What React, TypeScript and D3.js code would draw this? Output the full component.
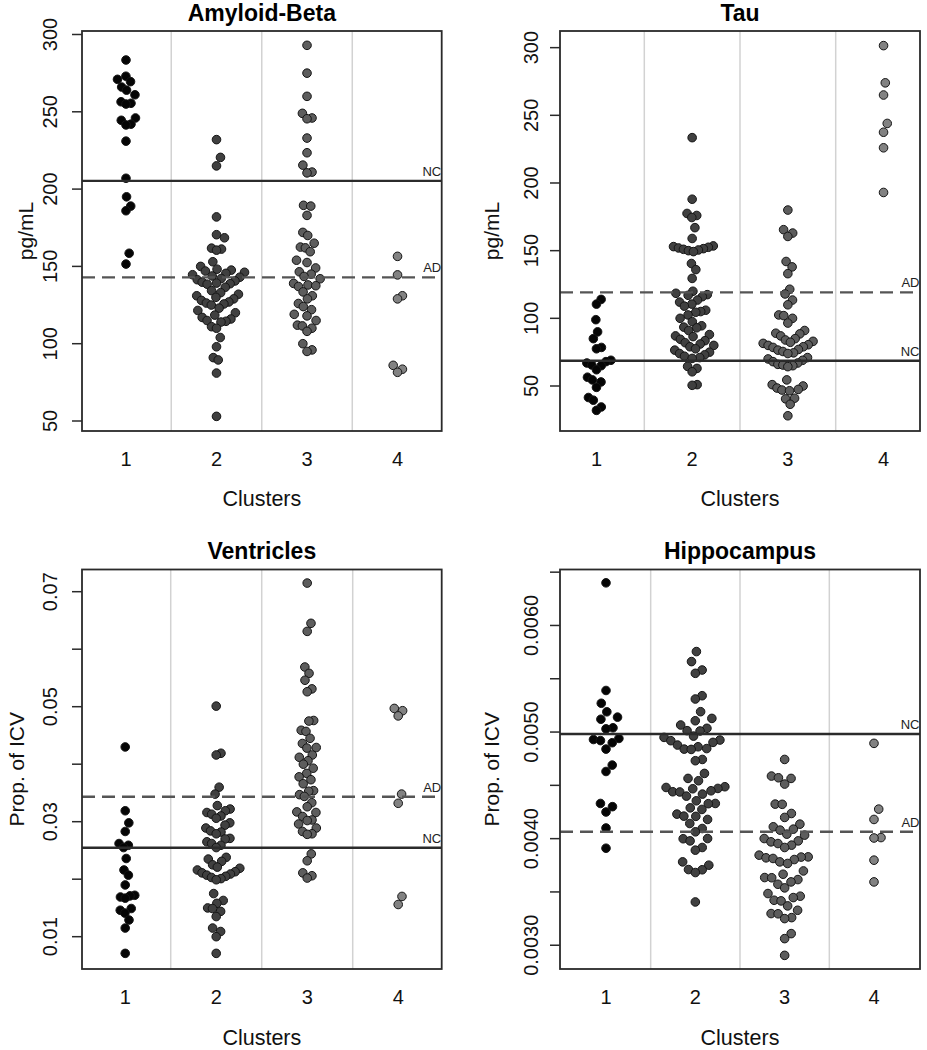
import React from "react";
import * as d3 from "d3";

// ---------------- data ----------------
const clusterLabels = ["1", "2", "3", "4"];
const refLabels = ["NC", "AD"];

// Amyloid-Beta (pg/mL)
const amyloidC1 = [283.5, 273, 271, 269.5, 266, 264, 261, 256.5, 255.5, 255, 246, 244.5, 242, 241.5, 231, 207, 195, 189, 186, 158.5, 151.5];
const amyloidC2 = [232, 220.5, 215, 182, 170.5, 168.5, 161.8, 161.2, 160.5, 153, 150,
  148.2, 147.6, 147, 146.2, 145.5, 144.6, 143.8, 143, 142.2, 141.4, 140.6, 139.8, 139.2, 138.8, 138.5,
  136.5, 134.3, 133, 132, 131, 130, 129, 128, 127, 126.3, 125.7,
  125, 123, 121.5, 120, 118.5, 117, 116, 115, 114.5, 114,
  111, 110, 104, 98, 91, 89.5, 81, 53];
const amyloidC3 = [293, 275, 260, 249, 246, 245.5, 233, 223.5, 215.5, 211, 210.5, 189.5, 189, 183, 172, 170, 165, 162.5, 162, 159.5,
  154, 152.5, 149, 146.5, 145, 143.5, 142, 139, 138, 137.5, 137, 133.5, 131, 129, 126, 124, 122, 119, 118, 115,
  112, 111.5, 110, 108, 100, 96, 95];
const amyloidC4 = [156.5, 144.5, 131, 129, 86, 83.5, 81.5];
const amyloidRefs = [205.3, 142.9];
const amyloidTicks = [50, 100, 150, 200, 250, 300];
const amyloidTickLabels = ["50", "100", "150", "200", "250", "300"];

// Tau (pg/mL)
const tauC1 = [114, 110.5, 99, 90, 85, 78.5, 77.5, 69, 68, 67, 65.5, 65, 62, 56.5, 54.5, 53, 49, 41.5, 39.5, 34.5, 32];
const tauC2 = [233.5, 188, 177.5, 176, 174.5, 167, 159, 153.5, 153, 152.5, 152, 151.5, 151, 150.5, 150, 149.3,
  140.5, 136, 129.5, 120, 118.5, 117.5, 117, 116, 113.5, 112, 110.5, 109, 106, 105, 104.5, 102.5, 100, 97.5,
  94.5, 93.5, 93, 91, 88, 87, 86.5, 84.5, 83.5, 82, 81, 80, 79, 77.5, 76.5, 75, 74, 73, 72, 71, 70.4,
  64.5, 63, 60.5, 51, 50.5];
const tauC3 = [180, 165.5, 163, 160.5, 142, 138, 133, 121.5, 118, 113.5, 110, 102.5, 102, 100, 96.5, 91, 89, 88.5,
  87, 85, 84, 83, 82.3, 81.5, 80.5, 80, 79, 78.5, 77, 76.5, 75.5, 74.5, 74, 71, 70, 69, 68, 67, 66, 65.5, 65, 64.3,
  54.5, 51, 50, 48.5, 47.5, 47, 46.5, 41, 40.5, 36.5, 28];
const tauC4 = [301.5, 274, 265, 244, 237.5, 226, 193];
const tauRefs = [68.7, 119.2];
const tauTicks = [50, 100, 150, 200, 250, 300];
const tauTickLabels = ["50", "100", "150", "200", "250", "300"];

// Ventricles (Prop. of ICV)
const ventC1 = [0.0430, 0.0319, 0.0298, 0.0283, 0.0262, 0.0259, 0.0255, 0.0236, 0.0216, 0.0207, 0.0190, 0.0172, 0.0171,
  0.0169, 0.0167, 0.0149, 0.0146, 0.0141, 0.0129, 0.0115, 0.0071];
const ventC2 = [0.0501, 0.0419, 0.0416, 0.0360, 0.0348, 0.0328, 0.0322, 0.0319, 0.0316, 0.0313, 0.0310, 0.0306, 0.0298,
  0.0294, 0.0289, 0.0284, 0.0282, 0.0279, 0.0271, 0.0270, 0.0265, 0.0262, 0.0259, 0.0255, 0.0238, 0.0235, 0.0231,
  0.0225, 0.0221, 0.0219, 0.0216, 0.0213, 0.0211, 0.0209, 0.0207, 0.0205, 0.0203, 0.0201, 0.0199, 0.0175, 0.0163,
  0.0158, 0.0150, 0.0149, 0.0144, 0.0135, 0.0115, 0.0109, 0.0100, 0.0071];
const ventC3 = [0.0715, 0.0645, 0.0631, 0.0569, 0.0558, 0.0546, 0.0531, 0.0526, 0.0476, 0.0475, 0.0459, 0.0457, 0.0445,
  0.0436, 0.0429, 0.0428, 0.0416, 0.0412, 0.0406, 0.0400, 0.0393, 0.0384, 0.0378, 0.0373, 0.0366, 0.0354, 0.0353,
  0.0347, 0.0344, 0.0333, 0.0326, 0.0317, 0.0316, 0.0309, 0.0303, 0.0302, 0.0296, 0.0289, 0.0283, 0.0279, 0.0278,
  0.0244, 0.0232, 0.0211, 0.0206, 0.0202];
const ventC4 = [0.0497, 0.0493, 0.0484, 0.0348, 0.0332, 0.0170, 0.0156];
const ventRefs = [0.02548, 0.03435];
const ventTicks = [0.01, 0.02, 0.03, 0.04, 0.05, 0.06, 0.07];
const ventTickLabels = ["0.01", "", "0.03", "", "0.05", "", "0.07"];

// Hippocampus (Prop. of ICV)
const hippC1 = [0.00640, 0.00539, 0.00527, 0.00519, 0.00514, 0.00512, 0.00504, 0.00503, 0.00494, 0.00493, 0.00492,
  0.00490, 0.00484, 0.00469, 0.00463, 0.00433, 0.00430, 0.00425, 0.00410, 0.00391];
const hippC2 = [0.005755, 0.005661, 0.005582, 0.005551, 0.005341, 0.005310, 0.005191, 0.005128, 0.005106, 0.005066,
  0.005035, 0.005013, 0.005010, 0.004962, 0.004950, 0.004925, 0.004919, 0.004903, 0.004878, 0.004862, 0.004845,
  0.004840, 0.004837, 0.004743, 0.004731, 0.004612, 0.004565, 0.004543, 0.004487, 0.004480, 0.004471, 0.004468,
  0.004449, 0.004440, 0.004438, 0.004418, 0.004399, 0.004355, 0.004330, 0.004328, 0.004289, 0.004274, 0.004230,
  0.004211, 0.004209, 0.004180, 0.004142, 0.004095, 0.004064, 0.004001, 0.003999, 0.003979, 0.003917, 0.003892,
  0.003782, 0.003751, 0.003710, 0.003708, 0.003682, 0.003406];
const hippC3 = [0.004743, 0.004587, 0.004571, 0.004565, 0.004512, 0.004324, 0.004322, 0.004236, 0.004199, 0.004136,
  0.004111, 0.004089, 0.004080, 0.004042, 0.004033, 0.004001, 0.003979, 0.003970, 0.003954, 0.003939, 0.003917,
  0.003845, 0.003829, 0.003827, 0.003820, 0.003814, 0.003804, 0.003782, 0.003767, 0.003697, 0.003666, 0.003635,
  0.003633, 0.003616, 0.003594, 0.003572, 0.003538, 0.003485, 0.003460, 0.003447, 0.003422, 0.003416, 0.003369,
  0.003328, 0.003297, 0.003295, 0.003259, 0.003250, 0.003109, 0.003062, 0.002905];
const hippC4 = [0.004894, 0.004277, 0.004180, 0.004010, 0.004006, 0.003798, 0.003594];
const hippRefs = [0.004982, 0.004064];
const hippTicks = [0.003, 0.0035, 0.004, 0.0045, 0.005, 0.0055, 0.006, 0.0065];
const hippTickLabels = ["0.0030", "", "0.0040", "", "0.0050", "", "0.0060", ""];

// ---------------- styling / layout ----------------
const FONT = "'Liberation Sans', Arial, Helvetica, sans-serif";
const clusterFills = ["#050505", "#404040", "#5d5d5d", "#828282"];
const R = 4.3;

type PanelCfg = {
  title: string; ylab: string; groups: number[][]; refs: number[];
  ticks: number[]; tickLabels: string[];
  left: number; right: number; top: number; bottom: number;
  xDomain: [number, number]; yDomain: [number, number];
  tickLabelX: number; ylabX: number; titleY: number; xLabY: number; xTitleY: number;
  sx: number; sy: number;
};

const panels: PanelCfg[] = [
  {
    title: "Amyloid-Beta", ylab: "pg/mL", groups: [amyloidC1, amyloidC2, amyloidC3, amyloidC4], refs: amyloidRefs,
    ticks: amyloidTicks, tickLabels: amyloidTickLabels,
    left: 82, right: 441.7, top: 31, bottom: 431, xDomain: [0.514, 4.488], yDomain: [43.53, 302.26],
    tickLabelX: 57, ylabX: 33, titleY: 21, xLabY: 466, xTitleY: 505.5, sx: 5, sy: 14,
  },
  {
    title: "Tau", ylab: "pg/mL", groups: [tauC1, tauC2, tauC3, tauC4], refs: tauRefs,
    ticks: tauTicks, tickLabels: tauTickLabels,
    left: 560, right: 920, top: 31, bottom: 431, xDomain: [0.619, 4.381], yDomain: [16.75, 312.3],
    tickLabelX: 537.5, ylabX: 499, titleY: 21, xLabY: 466, xTitleY: 505.5, sx: 5, sy: 13,
  },
  {
    title: "Ventricles", ylab: "Prop. of ICV", groups: [ventC1, ventC2, ventC3, ventC4], refs: ventRefs,
    ticks: ventTicks, tickLabels: ventTickLabels,
    left: 82, right: 441.7, top: 569.5, bottom: 969, xDomain: [0.525, 4.478], yDomain: [0.00438, 0.07386],
    tickLabelX: 57, ylabX: 24, titleY: 558.5, xLabY: 1004, xTitleY: 1044.5, sx: 4.8, sy: 13,
  },
  {
    title: "Hippocampus", ylab: "Prop. of ICV", groups: [hippC1, hippC2, hippC3, hippC4], refs: hippRefs,
    ticks: hippTicks, tickLabels: hippTickLabels,
    left: 560, right: 920, top: 569.5, bottom: 969, xDomain: [0.485, 4.515], yDomain: [0.002777, 0.006525],
    tickLabelX: 538, ylabX: 499, titleY: 558.5, xLabY: 1004, xTitleY: 1044.5, sx: 7, sy: 14,
  },
];

// beeswarm "swarm" placement (ascending priority), elliptical spacing, offsets in pixels
function swarm(ys: number[], sx: number, sy: number): number[] {
  const order = ys.map((_, i) => i).sort((a, b) => ys[b] - ys[a]);
  const placed: { x: number; y: number }[] = [];
  const out = new Array(ys.length).fill(0);
  for (const i of order) {
    const y = ys[i];
    const near = placed.filter((p) => Math.abs(p.y - y) < sy);
    let best = 0;
    if (near.length) {
      const cands: number[] = [0];
      for (const p of near) {
        const t = (p.y - y) / sy;
        const dx = sx * Math.sqrt(1 - t * t);
        cands.push(p.x + dx, p.x - dx);
      }
      const valid = cands.filter((c) =>
        near.every((p) => ((c - p.x) / sx) ** 2 + ((p.y - y) / sy) ** 2 >= 0.999));
      best = Infinity;
      for (const c of valid) if (Math.abs(c) < Math.abs(best) - 1e-9) best = c;
    }
    placed.push({ x: best, y });
    out[i] = best;
  }
  return out;
}

function Panel({ p }: { p: PanelCfg }) {
  const x = d3.scaleLinear().domain(p.xDomain).range([p.left, p.right]);
  const y = d3.scaleLinear().domain(p.yDomain).range([p.bottom, p.top]);
  const cy = (p.top + p.bottom) / 2;
  const cx = (p.left + p.right) / 2;
  return (
    <g>
      {[1.5, 2.5, 3.5].map((s) => (
        <line key={s} x1={x(s)} x2={x(s)} y1={p.top} y2={p.bottom} stroke="#d2d2d2" strokeWidth={1.5} />
      ))}
      {p.groups.map((vals, gi) => {
        const ys = vals.map((v) => y(v));
        const offs = swarm(ys, p.sx, p.sy);
        return (
          <g key={gi}>
            {vals.map((v, i) => (
              <circle key={i} cx={x(gi + 1) + offs[i]} cy={ys[i]} r={R}
                fill={clusterFills[gi]} stroke="#151515" strokeWidth={1} />
            ))}
          </g>
        );
      })}
      <line x1={p.left} x2={p.right} y1={y(p.refs[0])} y2={y(p.refs[0])} stroke="#2b2b2b" strokeWidth={2.4} />
      <line x1={p.left} x2={p.right} y1={y(p.refs[1])} y2={y(p.refs[1])} stroke="#555" strokeWidth={2.4}
        strokeDasharray="13,7" />
      {refLabels.map((lab, i) => (
        <text key={lab} x={p.right - 0.5} y={y(p.refs[i]) - 5} fontSize={13} textAnchor="end" fill="#222"
          fontFamily={FONT}>{lab}</text>
      ))}
      <rect x={p.left} y={p.top} width={p.right - p.left} height={p.bottom - p.top} fill="none"
        stroke="#2a2a2a" strokeWidth={1.8} />
      {p.ticks.map((t, i) => (
        <g key={i}>
          <line x1={p.left - 10} x2={p.left} y1={y(t)} y2={y(t)} stroke="#2a2a2a" strokeWidth={1.5} />
          {p.tickLabels[i] && (
            <text transform={`translate(${p.tickLabelX},${y(t)}) rotate(-90)`} textAnchor="middle" fontSize={20}
              fill="#111" fontFamily={FONT}>{p.tickLabels[i]}</text>
          )}
        </g>
      ))}
      <text transform={`translate(${p.ylabX},${cy}) rotate(-90)`} textAnchor="middle" fontSize={21}
        fill="#111" fontFamily={FONT}>{p.ylab}</text>
      {clusterLabels.map((c, i) => (
        <text key={c} x={x(i + 1)} y={p.xLabY} textAnchor="middle" fontSize={20} fill="#111"
          fontFamily={FONT}>{c}</text>
      ))}
      <text x={cx} y={p.xTitleY} textAnchor="middle" fontSize={21.5} fill="#111" fontFamily={FONT}>Clusters</text>
      <text x={cx} y={p.titleY} textAnchor="middle" fontSize={23} fontWeight="bold" fill="#000"
        fontFamily={FONT}>{p.title}</text>
    </g>
  );
}

export default function App() {
  return (
    <svg width={927} height={1050} style={{ position: "absolute", left: 0, top: 0, background: "#fff" }}>
      <rect width={927} height={1050} fill="#fff" />
      {panels.map((p) => (
        <Panel key={p.title} p={p} />
      ))}
    </svg>
  );
}
